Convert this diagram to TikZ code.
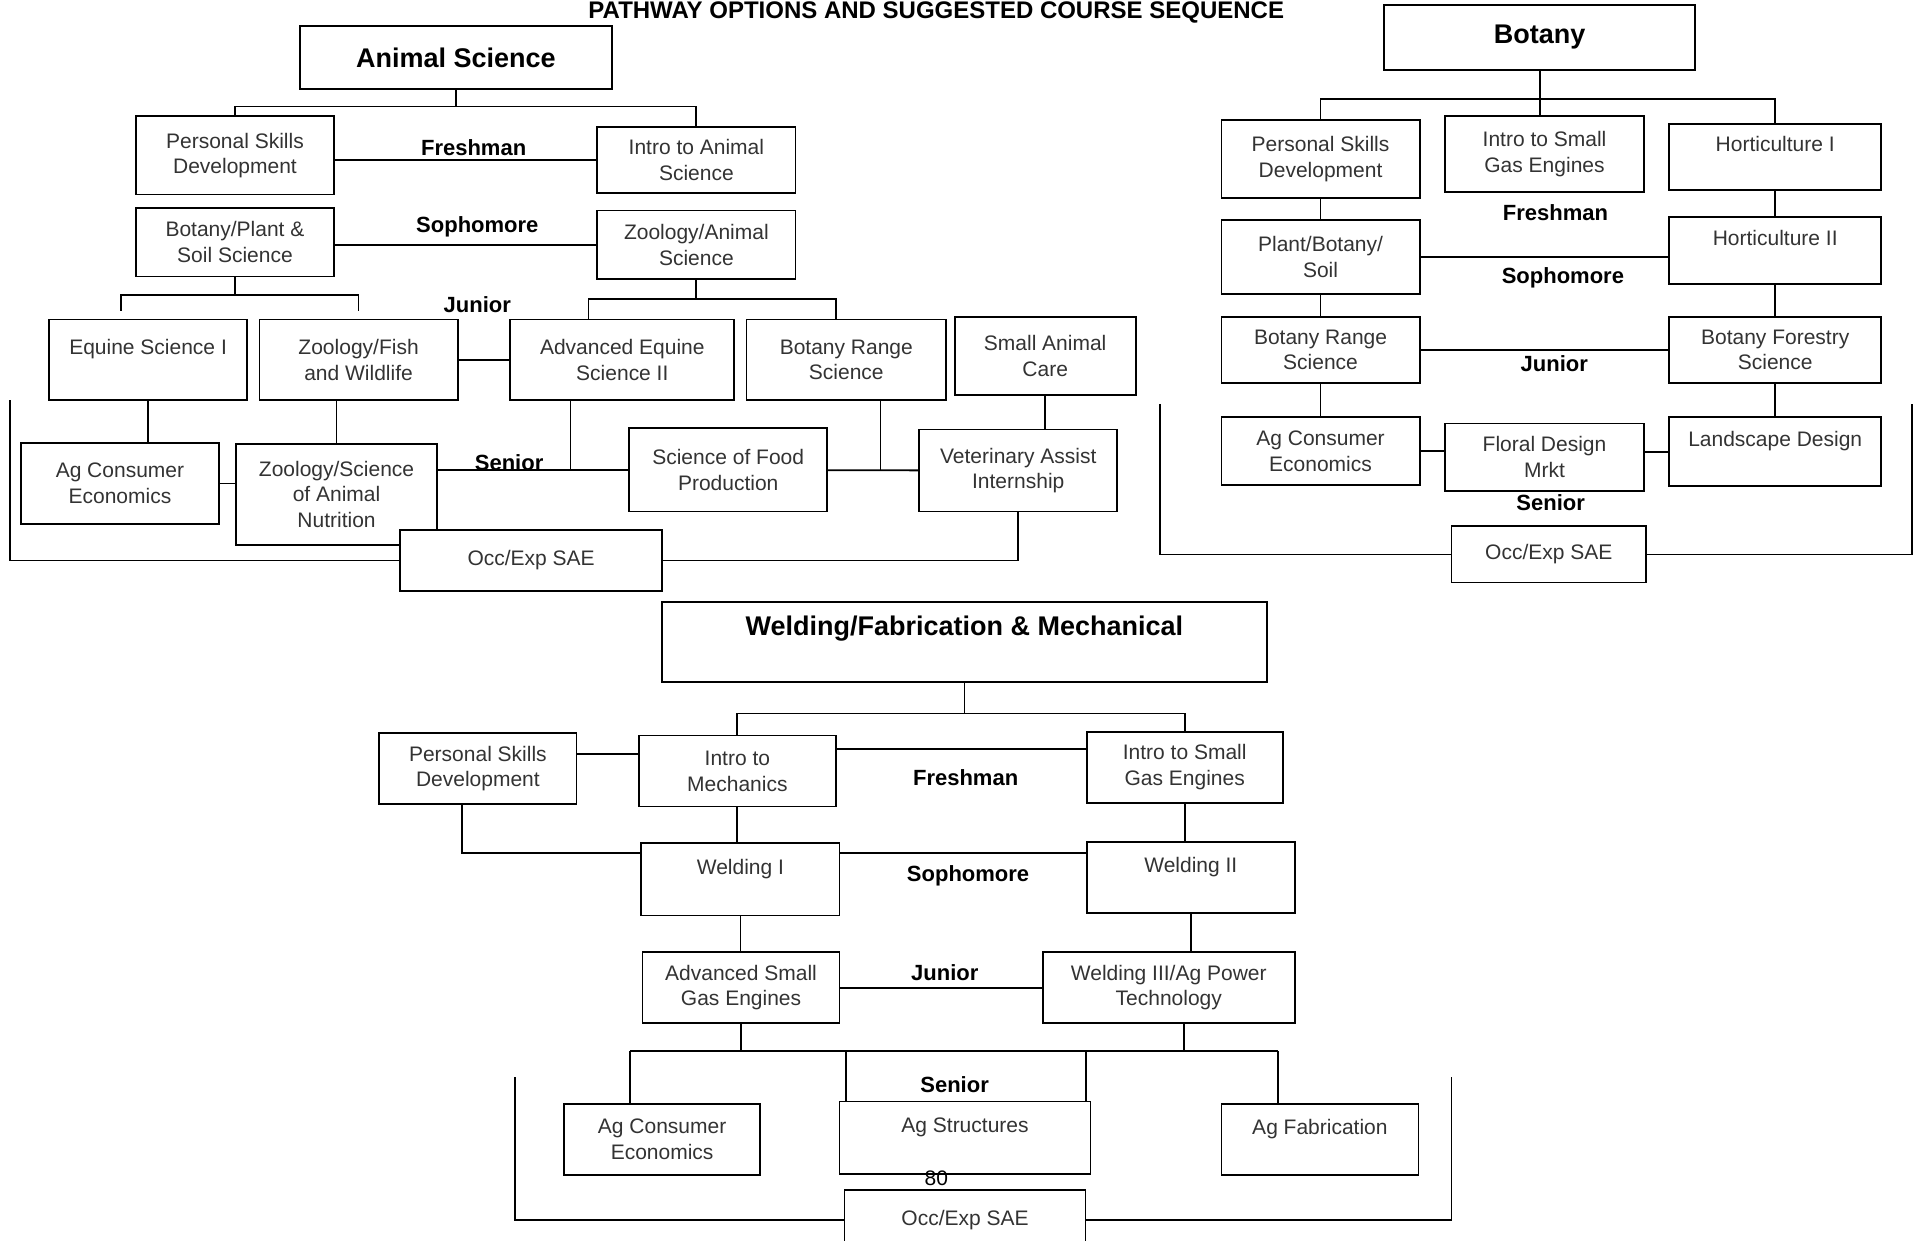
\documentclass[tikz,border=0pt]{standalone}
\usepackage{fontspec}
\setmainfont{Liberation Sans}
\usetikzlibrary{calc}

\tikzset{
  course/.style={draw, line width=0.9pt, fill=white, align=center, inner sep=2pt,
    text=black!80, font=\fontsize{10.5}{12.85}\selectfont},
  boxwh/.style 2 args={minimum width=#1*0.612pt, minimum height=#2*0.612pt},
  head/.style={course, text=black, font=\fontsize{13.5}{16}\selectfont\bfseries},
  year/.style={font=\fontsize{11}{13}\selectfont\bfseries},
  link/.style={line width=0.9pt},
}

\begin{document}
\begin{tikzpicture}[x=0.612pt,y=-0.612pt]
  \useasboundingbox[fill=white] (0,0) rectangle (1568,1014);
  \node[font=\fontsize{12}{14}\selectfont\bfseries, anchor=base] (title) at (765,15)
    {PATHWAY OPTIONS AND SUGGESTED COURSE SEQUENCE};

  % Animal Science
  \node[head, boxwh={255}{52}] (hdrA) at (372.5,47) {Animal Science};
  \node[course, boxwh={162}{64}] (psdA) at (192,127) {Personal Skills\\Development};
  \node[course, boxwh={162}{54}] (introA) at (569,131) {Intro to Animal\\Science};
  \node[course, boxwh={162}{56}] (bpsA) at (192,198) {Botany/Plant \&\\Soil Science};
  \node[course, boxwh={162}{56}] (zasA) at (569,200) {Zoology/Animal\\Science};
  \node[course, boxwh={162}{66}] (es1A) at (121,294) {Equine Science I\\~};
  \node[course, boxwh={162}{66}] (zfwA) at (293,294) {Zoology/Fish\\and Wildlife};
  \node[course, boxwh={183}{66}] (aesA) at (508.5,294) {Advanced Equine\\Science II};
  \node[course, boxwh={163}{66}] (brsA) at (691.5,294) {Botany Range\\Science};
  \node[course, boxwh={148}{64}] (sacA) at (854,291) {Small Animal\\Care};
  \node[course, boxwh={162}{66}] (aceA) at (98,395) {Ag Consumer\\Economics};
  \node[course, boxwh={164}{82}] (zsanA) at (275,404) {Zoology/Science\\of Animal\\Nutrition};
  \node[course, boxwh={162}{68}] (sfpA) at (595,384) {Science of Food\\Production};
  \node[course, boxwh={162}{67}] (vaiA) at (832,384.5) {Veterinary Assist\\Internship};
  \node[course, boxwh={214}{50}] (occA) at (434,458) {Occ/Exp SAE};
  \node[year] (frA) at (387,121) {Freshman};
  \node[year] (soA) at (390,185) {Sophomore};
  \node[year] (juA) at (390,249) {Junior};
  \node[year] (seA) at (416,378) {Senior};

  \coordinate (forkA) at (372.5,87);
  \coordinate (jfA) at (192,241);
  \coordinate (tkL) at (99,254);
  \coordinate (tkR) at (293,254);
  \coordinate (jfB) at (569,244);
  \coordinate (aesN) at ($(aesA.north west)!.35!(aesA.north east)$);
  \coordinate (brsN) at ($(brsA.north west)!.45!(brsA.north east)$);
  \coordinate (aesS) at ($(aesA.south west)!.27!(aesA.south east)$);
  \coordinate (brsS) at ($(brsA.south west)!.67!(brsA.south east)$);
  \coordinate (brA) at (8,327);
  \draw[link] (hdrA.south) -- (forkA);
  \draw[link] (psdA.north) |- (forkA) -| (introA.north);
  \draw[link] (introA.west) -- (introA.west -| psdA.east);
  \draw[link] (zasA.west) -- (zasA.west -| bpsA.east);
  \draw[link] (bpsA.south) -- (jfA);
  \draw[link] (tkL) |- (jfA) -| (tkR);
  \draw[link] (zasA.south) -- (jfB);
  \draw[link] (aesN) |- (jfB) -| (brsN);
  \draw[link] (zfwA) -- (aesA);
  \draw[link] (es1A.south) -- (es1A.south |- aceA.north);
  \draw[link] (zsanA.north) -- (zsanA.north |- zfwA.south);
  \draw[link] (aceA.east) -- (aceA.east -| zsanA.west);
  \draw[link] (sfpA.west) -- (sfpA.west -| zsanA.east);
  \draw[link] (aesS) -- (aesS |- sfpA.west);
  \draw[link] (sfpA) -- (vaiA);
  \draw[link] (brsS) -- (brsS |- vaiA.west);
  \draw[link] (sacA.south) -- (sacA.south |- vaiA.north);
  \draw[link] (brA) |- (occA.west);
  \draw[link] (occA.east) -| (vaiA.south);

  % Botany
  \node[head, boxwh={254}{53}] (hdrB) at (1258,30.5) {Botany};
  \node[course, boxwh={162}{64}] (psdB) at (1079,130) {Personal Skills\\Development};
  \node[course, boxwh={162}{62}] (isgeB) at (1262,126) {Intro to Small\\Gas Engines};
  \node[course, boxwh={173}{54}] (h1B) at (1450.5,128) {Horticulture I\\~};
  \node[course, boxwh={162}{60}] (pbsB) at (1079,210) {Plant/Botany/\\Soil};
  \node[course, boxwh={173}{55}] (h2B) at (1450.5,204.5) {Horticulture II\\~};
  \node[course, boxwh={162}{54}] (brsB) at (1079,286) {Botany Range\\Science};
  \node[course, boxwh={173}{54}] (bfsB) at (1450.5,286) {Botany Forestry\\Science};
  \node[course, boxwh={162}{55}] (aceB) at (1079,368.5) {Ag Consumer\\Economics};
  \node[course, boxwh={162}{55}] (fdmB) at (1262,373.5) {Floral Design\\Mrkt};
  \node[course, boxwh={173}{56}] (ldB) at (1450.5,369) {Landscape Design\\~};
  \node[course, boxwh={159}{46}] (occB) at (1265.5,453) {Occ/Exp SAE};
  \node[year] (frB) at (1271,174) {Freshman};
  \node[year] (soB) at (1277,227) {Sophomore};
  \node[year] (juB) at (1270,297) {Junior};
  \node[year] (seB) at (1267,411) {Senior};

  \coordinate (forkB) at (1258,81);
  \coordinate (brB1) at (948,330);
  \coordinate (brB2) at (1562,330);
  \draw[link] (hdrB.south) -- (forkB);
  \draw[link] (psdB.north) |- (forkB) -| (h1B.north);
  \draw[link] (forkB) -- (forkB |- isgeB.north);
  \draw[link] (psdB) -- (pbsB);
  \draw[link] (h1B) -- (h2B);
  \draw[link] (pbsB.east) -- (pbsB.east -| h2B.west);
  \draw[link] (pbsB) -- (brsB);
  \draw[link] (h2B) -- (bfsB);
  \draw[link] (brsB) -- (bfsB);
  \draw[link] (brsB) -- (aceB);
  \draw[link] (bfsB) -- (ldB);
  \draw[link] (aceB.east) -- (aceB.east -| fdmB.west);
  \draw[link] (ldB.west) -- (ldB.west -| fdmB.east);
  \draw[link] (brB1) |- (occB.west);
  \draw[link] (occB.east) -| (brB2);

  % Welding/Fabrication & Mechanical
  \node[head, boxwh={494}{65}] (hdrC) at (788,524.5) {Welding/Fabrication \& Mechanical\\~};
  \node[course, boxwh={161}{58}] (psdC) at (390.5,628) {Personal Skills\\Development};
  \node[course, boxwh={161}{58}] (itmC) at (602.5,630) {Intro to\\Mechanics};
  \node[course, boxwh={160}{58}] (isgeC) at (968,627) {Intro to Small\\Gas Engines};
  \node[course, boxwh={162}{59}] (w1C) at (605,718.5) {Welding I\\~};
  \node[course, boxwh={170}{58}] (w2C) at (973,717) {Welding II\\~};
  \node[course, boxwh={161}{58}] (asgeC) at (605.5,807) {Advanced Small\\Gas Engines};
  \node[course, boxwh={206}{58}] (w3C) at (955,807) {Welding III/Ag Power\\Technology};
  \node[course, boxwh={160}{58}] (aceC) at (541,931) {Ag Consumer\\Economics};
  \node[course, boxwh={205}{59}] (agsC) at (788.5,929.5) {Ag Structures\\~};
  \node[course, boxwh={161}{58}] (agfC) at (1078.5,931) {Ag Fabrication\\~};
  \node[course, boxwh={197}{50}] (occC) at (788.5,997) {Occ/Exp SAE};
  \node[year] (frC) at (789,635) {Freshman};
  \node[year] (soC) at (791,716) {Sophomore};
  \node[year] (juC) at (772,795) {Junior};
  \node[year] (seC) at (780,886) {Senior};
  \node[font=\fontsize{10.5}{12}\selectfont] (pgno) at (765,963) {80};

  \coordinate (forkC) at (788,583);
  \coordinate (psdE) at ($(psdC.north east)!.3!(psdC.south east)$);
  \coordinate (itmE) at ($(itmC.north east)!.2!(itmC.south east)$);
  \coordinate (psdS) at ($(psdC.south west)!.42!(psdC.south east)$);
  \coordinate (w1W) at ($(w1C.north west)!.14!(w1C.south west)$);
  \coordinate (w1E) at ($(w1C.north east)!.14!(w1C.south east)$);
  \coordinate (w3S) at ($(w3C.south west)!.56!(w3C.south east)$);
  \coordinate (sfL) at (515,859);
  \coordinate (sfR) at (1044,859);
  \coordinate (agsL) at ($(agsC.north west)!.03!(agsC.north east)$);
  \coordinate (agsR) at ($(agsC.north west)!.98!(agsC.north east)$);
  \coordinate (brC1) at (421,880);
  \coordinate (brC2) at (1186,880);
  \draw[link] (hdrC.south) -- (forkC);
  \draw[link] (itmC.north) |- (forkC) -| (isgeC.north);
  \draw[link] (psdE) -- (psdE -| itmC.west);
  \draw[link] (itmE) -- (itmE -| isgeC.west);
  \draw[link] (psdS) |- (w1W);
  \draw[link] (w1E) -- (w1E -| w2C.west);
  \draw[link] (itmC.south) -- (itmC.south |- w1C.north);
  \draw[link] (isgeC.south) -- (isgeC.south |- w2C.north);
  \draw[link] (w1C.south) -- (w1C.south |- asgeC.north);
  \draw[link] (w2C.south) -- (w2C.south |- w3C.north);
  \draw[link] (asgeC) -- (w3C);
  \draw[link] (sfL) -- (sfR);
  \draw[link] (asgeC.south) -- (asgeC.south |- sfL);
  \draw[link] (w3S) -- (w3S |- sfL);
  \draw[link] (sfL) -- (sfL |- aceC.north);
  \draw[link] (agsL) -- (agsL |- sfL);
  \draw[link] (agsR) -- (agsR |- sfL);
  \draw[link] (sfR) -- (sfR |- agfC.north);
  \draw[link] (brC1) |- (occC.west);
  \draw[link] (occC.east) -| (brC2);
\end{tikzpicture}
\end{document}
